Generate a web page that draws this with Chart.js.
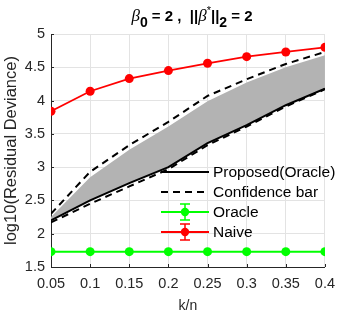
<!DOCTYPE html>
<html>
<head>
<meta charset="utf-8">
<script src="https://cdn.jsdelivr.net/npm/chart.js@4/dist/chart.umd.min.js"></script>
<style>
  html, body { margin: 0; padding: 0; background: #ffffff; }
  #wrap { position: relative; width: 343px; height: 316px; overflow: hidden; }
  #title { position: absolute; left: 0; top: 7px; width: 384px; text-align: center;
           font-family: "Liberation Sans", Arial, sans-serif; font-weight: bold; font-size: 15px;
           line-height: 18px; color: #000; white-space: pre; }
  #title .b { font-family: "Liberation Serif", "DejaVu Serif", serif; font-style: italic; font-weight: normal; font-size: 17px; }
  #title .sub { position: relative; top: 6px; font-size: 14px; }
  #title .sup { position: relative; top: -7px; font-size: 11px; font-weight: normal; }
</style>
</head>
<body>
<div id="wrap">
  <canvas id="c" width="343" height="316"></canvas>
  <div id="title"><span class="b">β</span><span class="sub">0</span> = 2 ,  ||<span class="b">β</span><span class="sup">*</span>||<span class="sub">2</span> = 2</div>
</div>
<script>
// ---- data ----
const kOverN      = [0.05, 0.10, 0.15, 0.20, 0.25, 0.30, 0.35, 0.40];
const xTickLabels = ['0.05', '0.1', '0.15', '0.2', '0.25', '0.3', '0.35', '0.4'];
const yTickValues = [1.5, 2, 2.5, 3, 3.5, 4, 4.5, 5];
const yTickLabels = ['1.5', '2', '2.5', '3', '3.5', '4', '4.5', '5'];

const proposed    = [2.20, 2.50, 2.76, 3.00, 3.36, 3.63, 3.93, 4.18];
const bandUpper   = [2.25, 2.85, 3.26, 3.61, 3.99, 4.27, 4.50, 4.68];
const ciUpper     = [2.30, 2.93, 3.33, 3.68, 4.07, 4.32, 4.55, 4.73];
const ciLower     = [2.17, 2.45, 2.71, 2.97, 3.33, 3.61, 3.91, 4.17];
const oracle      = [1.73, 1.73, 1.73, 1.73, 1.73, 1.73, 1.73, 1.73];
const naive       = [3.84, 4.14, 4.33, 4.45, 4.56, 4.66, 4.73, 4.80];

const legendItems = [
  { label: 'Proposed(Oracle)', color: '#000000', dash: [],     marker: false },
  { label: 'Confidence bar',   color: '#000000', dash: [7, 5], marker: false },
  { label: 'Oracle',           color: '#00ff00', dash: [],     marker: true  },
  { label: 'Naive',            color: '#ff0000', dash: [],     marker: true  }
];

const pts = arr => kOverN.map((x, i) => ({ x: x, y: arr[i] }));
const AXIS = '#262626';
const FONT = '"Liberation Sans", Arial, sans-serif';

const tickMarks = {
  id: 'tickMarks',
  afterDatasetsDraw(chart) {
    const { ctx, chartArea: a, scales: { x, y } } = chart;
    ctx.save();
    ctx.strokeStyle = AXIS; ctx.lineWidth = 1;
    ctx.beginPath();
    kOverN.forEach(v => { const px = Math.round(x.getPixelForValue(v)) + 0.5; ctx.moveTo(px, a.bottom); ctx.lineTo(px, a.bottom - 3); });
    yTickValues.forEach(v => { const py = Math.round(y.getPixelForValue(v)) + 0.5; ctx.moveTo(a.left, py); ctx.lineTo(a.left + 3, py); });
    ctx.stroke();
    ctx.restore();
  }
};

const legendPlugin = {
  id: 'insideLegend',
  afterDraw(chart) {
    const { ctx } = chart;
    const x0 = 161, x1 = 209, tx = 213, y0 = 172, dy = 20;
    ctx.save();
    ctx.font = '15.5px ' + FONT;
    ctx.textBaseline = 'middle';
    ctx.textAlign = 'left';
    legendItems.forEach((it, i) => {
      const yy = y0 + i * dy;
      ctx.strokeStyle = it.color; ctx.lineWidth = 2; ctx.setLineDash(it.dash);
      ctx.beginPath(); ctx.moveTo(x0, yy); ctx.lineTo(x1, yy); ctx.stroke();
      ctx.setLineDash([]);
      if (it.marker) {
        const cx = (x0 + x1) / 2;
        ctx.lineWidth = 1.5;
        ctx.beginPath();
        ctx.moveTo(cx, yy - 8); ctx.lineTo(cx, yy + 8);
        ctx.moveTo(cx - 5, yy - 8); ctx.lineTo(cx + 5, yy - 8);
        ctx.moveTo(cx - 5, yy + 8); ctx.lineTo(cx + 5, yy + 8);
        ctx.stroke();
        ctx.fillStyle = it.color;
        ctx.beginPath(); ctx.arc(cx, yy, 4.2, 0, Math.PI * 2); ctx.fill();
      }
      ctx.fillStyle = '#000000';
      ctx.fillText(it.label, tx, yy + 1);
    });
    ctx.restore();
  }
};

new Chart(document.getElementById('c'), {
  type: 'line',
  data: {
    datasets: [
      { label: 'band', data: pts(bandUpper), fill: 3, backgroundColor: '#b3b3b3', borderWidth: 0, pointRadius: 0, order: 6 },
      { label: 'ciUpper', data: pts(ciUpper), borderColor: '#000', borderWidth: 2, borderDash: [7, 5], pointRadius: 0, fill: false, order: 5 },
      { label: 'ciLower', data: pts(ciLower), borderColor: '#000', borderWidth: 2, borderDash: [7, 5], pointRadius: 0, fill: false, order: 4 },
      { label: 'Proposed(Oracle)', data: pts(proposed), borderColor: '#000', borderWidth: 2, pointRadius: 0, fill: false, order: 3 },
      { label: 'Oracle', data: pts(oracle), borderColor: '#00ff00', backgroundColor: '#00ff00', borderWidth: 2, pointRadius: 4.5, pointBorderWidth: 0, fill: false, order: 2 },
      { label: 'Naive', data: pts(naive), borderColor: '#ff0000', backgroundColor: '#ff0000', borderWidth: 1.8, pointRadius: 4.5, pointBorderWidth: 0, fill: false, order: 1 }
    ]
  },
  options: {
    responsive: false,
    devicePixelRatio: 1,
    animation: false,
    layout: { padding: { top: 34, right: 14, left: 0, bottom: 0 } },
    plugins: { legend: { display: false }, tooltip: { enabled: false }, filler: { propagate: false } },
    elements: { line: { tension: 0 } },
    scales: {
      x: {
        type: 'linear', min: 0.05, max: 0.4,
        afterBuildTicks: s => { s.ticks = kOverN.map(v => ({ value: v })); },
        afterFit: s => { s.height = 49; },
        ticks: { color: AXIS, font: { family: FONT, size: 14.5 }, padding: 8, maxRotation: 0, autoSkip: false,
                 callback: (v, i) => xTickLabels[i] },
        grid: { color: '#e3e3e3', drawTicks: false },
        border: { display: true, color: AXIS, width: 1 },
        title: { display: true, text: 'k/n', color: AXIS, font: { family: FONT, size: 14 }, padding: { top: 0, bottom: 1 } }
      },
      y: {
        type: 'linear', min: 1.5, max: 5,
        afterBuildTicks: s => { s.ticks = yTickValues.map(v => ({ value: v })); },
        afterFit: s => { s.width = 51; },
        ticks: { color: AXIS, font: { family: FONT, size: 14.5 }, padding: 6, autoSkip: false,
                 callback: (v, i) => yTickLabels[i] },
        grid: { color: '#e3e3e3', drawTicks: false },
        border: { display: true, color: AXIS, width: 1 },
        title: { display: true, text: 'log10(Residual Deviance)', color: AXIS, font: { family: FONT, size: 16.5 }, padding: { top: 2, bottom: 0 } }
      }
    }
  },
  plugins: [tickMarks, legendPlugin]
});
</script>
</body>
</html>
